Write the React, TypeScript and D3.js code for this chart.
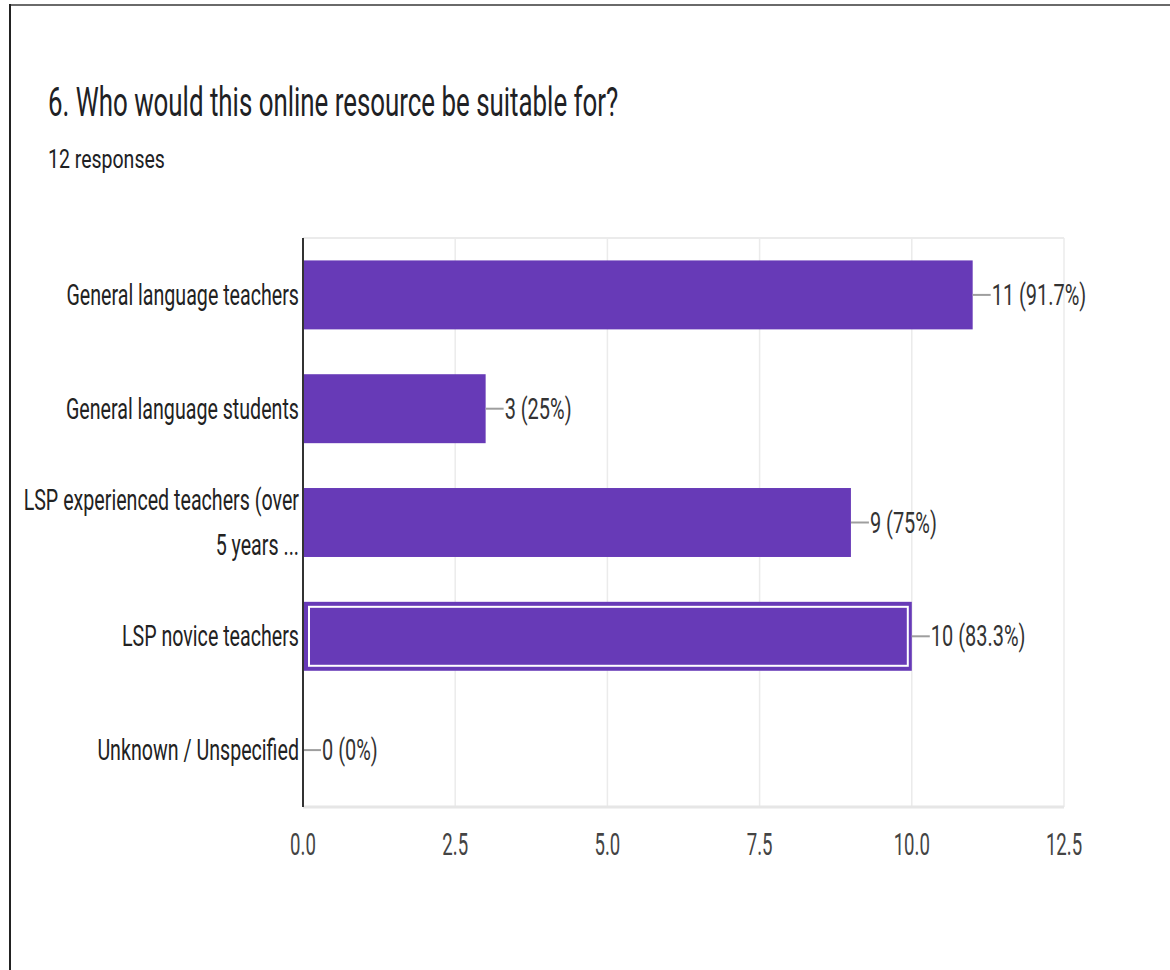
import React from "react";
import * as d3 from "d3";

const categories: string[][] = [
  ["General language teachers"],
  ["General language students"],
  ["LSP experienced teachers (over", "5 years ..."],
  ["LSP novice teachers"],
  ["Unknown / Unspecified"],
];
const counts: number[] = [11, 3, 9, 10, 0];
const percentLabels: string[] = ["91.7%", "25%", "75%", "83.3%", "0%"];
const xTicks: number[] = [0, 2.5, 5, 7.5, 10, 12.5];
const highlighted = 3;

const TITLE = "6. Who would this online resource be suitable for?";
const SUBTITLE = "12 responses";

const W = 1170;
const H = 970;
const PLOT = { left: 303, right: 1064, top: 238, bottom: 807 };
const BAR = "#673ab7";
const SX = 0.655;
const TITLE_SX = 0.647;
const SUB_SX = 0.78;
const FONT = "Roboto, 'Liberation Sans', Arial, sans-serif";

export default function App() {
  const x = d3.scaleLinear().domain([0, 12.5]).range([PLOT.left, PLOT.right]);
  const y = d3
    .scaleBand<number>()
    .domain(d3.range(categories.length))
    .range([PLOT.top, PLOT.bottom])
    .paddingInner(0.394)
    .paddingOuter(0.197);
  const bw = y.bandwidth();

  const txt = (
    key: string,
    tx: number,
    ty: number,
    s: string,
    anchor: string,
    size: number,
    fill: string,
    sx = SX
  ) => (
    <text
      key={key}
      transform={`translate(${tx},${ty}) scale(${sx},1)`}
      textAnchor={anchor as any}
      fontSize={size}
      fill={fill}
      fontFamily={FONT}
    >
      {s}
    </text>
  );

  return (
    <svg
      width={W}
      height={H}
      style={{ position: "absolute", left: 0, top: 0, background: "#fff" }}
    >
      <rect x={0} y={0} width={W} height={H} fill="#fff" />
      {/* frame */}
      <line x1={10} x2={W} y1={5} y2={5} stroke="#6a6a6a" strokeWidth={2} />
      <line x1={10} x2={10} y1={4} y2={H} stroke="#222" strokeWidth={2} />

      {txt("title", 48, 116, TITLE, "start", 40, "#202124", TITLE_SX)}
      {txt("sub", 48, 168, SUBTITLE, "start", 25, "#202124", SUB_SX)}

      {/* gridlines */}
      {xTicks.map((t) => (
        <line
          key={"g" + t}
          x1={x(t)}
          x2={x(t)}
          y1={PLOT.top}
          y2={PLOT.bottom}
          stroke="#ebebeb"
          strokeWidth={1.5}
        />
      ))}
      <line x1={PLOT.left} x2={PLOT.right} y1={PLOT.top} y2={PLOT.top} stroke="#ebebeb" strokeWidth={2} />
      <line x1={PLOT.left} x2={PLOT.right} y1={PLOT.bottom} y2={PLOT.bottom} stroke="#e6e6e6" strokeWidth={3} />

      {/* bars */}
      {counts.map((v, i) => {
        const y0 = y(i)!;
        const x1 = x(v);
        const w = x1 - x(0);
        return (
          <g key={"b" + i}>
            {w > 0 && <rect x={x(0)} y={y0} width={w} height={bw} fill={BAR} />}
            {i === highlighted && w > 0 && (
              <rect
                x={x(0) + 6}
                y={y0 + 5}
                width={w - 10}
                height={bw - 10}
                fill="none"
                stroke="#fff"
                strokeWidth={2}
              />
            )}
            <line
              x1={x1}
              x2={x1 + 18}
              y1={y0 + bw / 2}
              y2={y0 + bw / 2}
              stroke="#9e9e9e"
              strokeWidth={2}
            />
            {txt(
              "v" + i,
              x1 + 19,
              y0 + bw / 2 + 10,
              `${v} (${percentLabels[i]})`,
              "start",
              30,
              "#333",
              0.665
            )}
          </g>
        );
      })}

      {/* baseline */}
      <line x1={x(0)} x2={x(0)} y1={PLOT.top} y2={PLOT.bottom} stroke="#333" strokeWidth={2} />

      {/* category labels */}
      {categories.map((lines, i) => {
        const c = y(i)! + bw / 2;
        const lh = 45;
        const start = c - ((lines.length - 1) * lh) / 2 + 10;
        return lines.map((l, j) =>
          txt("c" + i + "-" + j, PLOT.left - 4, start + j * lh, l, "end", 30, "#222")
        );
      })}

      {/* tick labels */}
      {xTicks.map((t) =>
        txt("t" + t, x(t), 855, d3.format(".1f")(t), "middle", 31, "#444", 0.6)
      )}
    </svg>
  );
}
